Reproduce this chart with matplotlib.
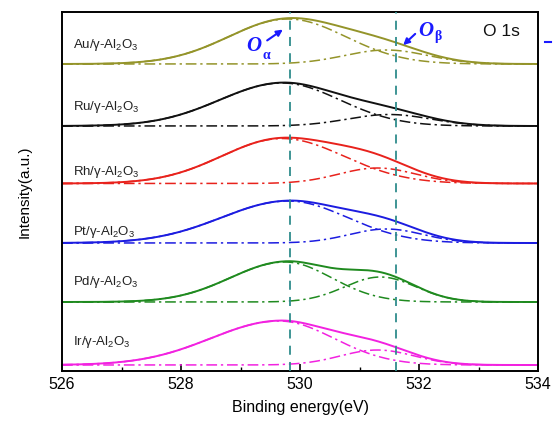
import numpy as np
import matplotlib
matplotlib.use("Agg")
import matplotlib.pyplot as plt
from matplotlib.lines import Line2D

plt.rcParams['font.family'] = ['Liberation Sans', 'DejaVu Sans']
plt.rcParams['mathtext.fontset'] = 'custom'
plt.rcParams['mathtext.rm'] = 'Liberation Sans'
plt.rcParams['mathtext.default'] = 'regular'

# ---- data ----
samples = ['Au', 'Ru', 'Rh', 'Pt', 'Pd', 'Ir']
colors = ['#94942a', '#111111', '#e8221c', '#1c1ce0', '#1f8a1f', '#f222e0']
offsets = [307, 245, 187.5, 128, 69, 6]          # vertical offset of each spectrum (a.u.)
label_y = [326, 264, 199, 139, 89, 29]            # label heights (a.u.)

alpha_center = [529.8, 529.7, 529.7, 529.8, 529.75, 529.65]
alpha_height = [45, 43, 45, 42, 40, 44]
alpha_sigma_left = [1.0, 1.05, 1.02, 1.12, 0.92, 1.15]
alpha_sigma_right = [0.97, 0.97, 1.04, 1.0, 0.78, 0.92]

beta_center = [531.45, 531.5, 531.3, 531.45, 531.35, 531.3]
beta_height = [14, 11.5, 15.5, 14, 25, 15]
beta_sigma = [0.7, 0.7, 0.65, 0.62, 0.6, 0.62]

ref_lines = [529.83, 531.62]
xticks = [526, 528, 530, 532, 534]


def peak(x, c, h, sl, sr):
    s = np.where(x < c, sl, sr)
    return h * np.exp(-(x - c) ** 2 / (2 * s ** 2))


fig = plt.figure(figsize=(5.55, 4.21), dpi=100)
ax = fig.add_axes([62 / 555, (421 - 371) / 421, (538 - 62) / 555, (371 - 12) / 421])

x = np.linspace(526, 534, 801)
dashdot = (0, (7, 2.5, 1.5, 2.5))
for i, s in enumerate(samples):
    c = colors[i]
    off = offsets[i]
    pa = peak(x, alpha_center[i], alpha_height[i], alpha_sigma_left[i], alpha_sigma_right[i])
    pb = peak(x, beta_center[i], beta_height[i], beta_sigma[i], beta_sigma[i])
    ax.plot(x, off + pa, color=c, lw=1.1, ls=dashdot)
    ax.plot(x, off + pb, color=c, lw=1.1, ls=dashdot)
    ax.plot(x, off + pa + pb, color=c, lw=1.4)
    ax.text(526.18, label_y[i], s + r'/γ-Al$_2$O$_3$', fontsize=9.5,
            ha='left', va='center', color='#222222')

for v in ref_lines:
    ax.axvline(v, color='#2f8c8c', lw=1.3, ls=(0, (5, 4)), zorder=5)

# annotations
blue = '#1a1aff'
ax.annotate('', xy=(529.75, 343), xytext=(529.41, 329),
            arrowprops=dict(arrowstyle='-|>', color=blue, lw=1.5, mutation_scale=9))
ax.text(529.23, 325, 'O', fontsize=15, fontweight='bold', fontstyle='italic',
        family='Liberation Serif', color=blue, ha='center', va='center')
ax.text(529.43, 316, 'α', fontsize=10, fontweight='bold',
        family='Liberation Serif', color=blue, ha='center', va='center')

ax.annotate('', xy=(531.70, 324), xytext=(531.97, 339),
            arrowprops=dict(arrowstyle='-|>', color=blue, lw=1.5, mutation_scale=9))
ax.text(532.12, 340, 'O', fontsize=15, fontweight='bold', fontstyle='italic',
        family='Liberation Serif', color=blue, ha='center', va='center')
ax.text(532.31, 335, 'β', fontsize=10, fontweight='bold',
        family='Liberation Serif', color=blue, ha='center', va='center')

ax.text(533.39, 340, 'O 1s', fontsize=12.5, ha='center', va='center', color='#111111')

ax.set_xlim(526, 534)
ax.set_ylim(0, 359)
ax.set_xticks(xticks)
ax.set_xticks(np.arange(527, 534, 2), minor=True)
ax.set_yticks([])
ax.tick_params(axis='x', which='major', direction='in', length=5, width=1.2,
               labelsize=11.5, pad=4, top=False)
ax.tick_params(axis='x', which='minor', direction='in', length=3, width=1.0, top=False)
for sp in ax.spines.values():
    sp.set_linewidth(1.4)

ax.set_xlabel('Binding energy(eV)', fontsize=11.5, labelpad=6)
ax.set_ylabel('Intensity(a.u.)', fontsize=11, labelpad=22)

fig.add_artist(Line2D([545 / 555, 551 / 555], [0.900, 0.900], color=blue, lw=1.5))

fig.savefig('out.png', dpi=100)
